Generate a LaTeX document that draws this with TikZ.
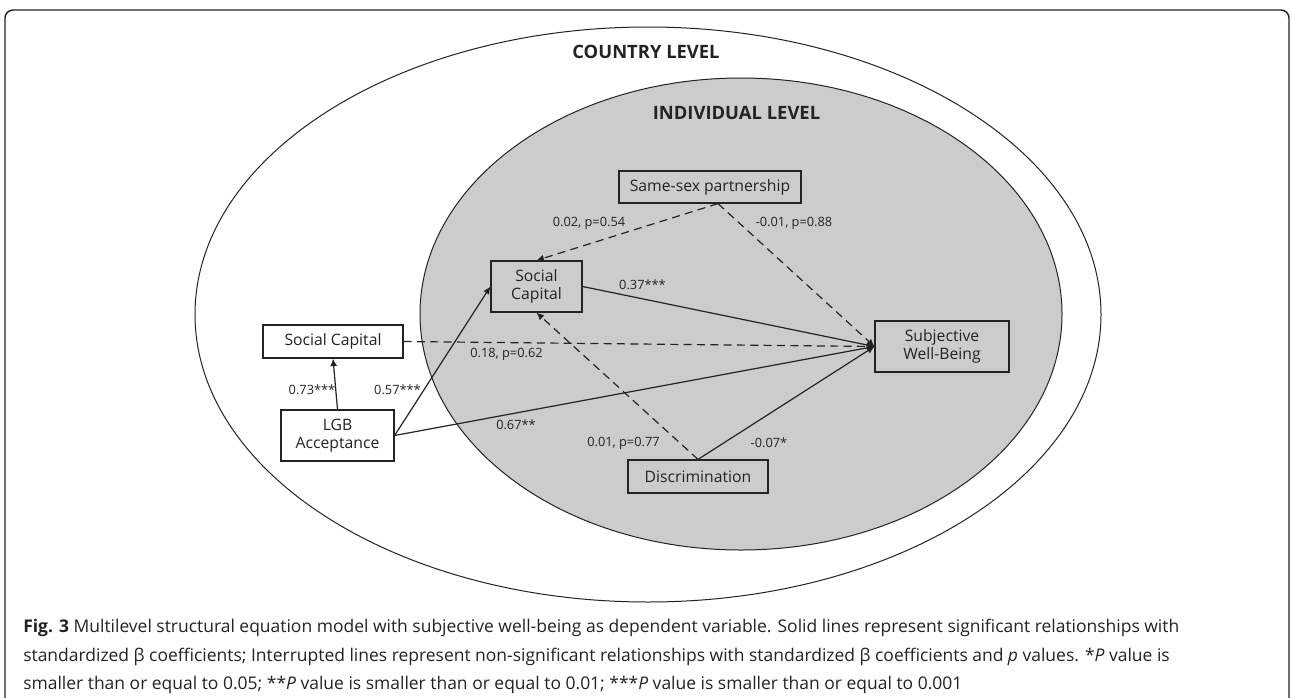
\documentclass[tikz,border=0pt]{standalone}
\usepackage{fontspec}
\setmainfont{Open Sans}
\usetikzlibrary{arrows.meta,positioning}
\definecolor{levelgray}{HTML}{CCCCCC}
\definecolor{inkgray}{HTML}{232323}

\begin{document}
\begin{tikzpicture}
	[x=0.75pt, y=-0.75pt, inner sep=0pt,
	levelline/.style	= {draw=inkgray, line width=0.75pt},
	heading/.style	= {font=\fontsize{13.8}{16}\selectfont\bfseries, text=inkgray},
	measure/.style	= {rectangle, draw=inkgray, line width=0.9pt, align=center, text=inkgray, font=\fontsize{11.8}{13.3}\selectfont},
	coef/.style		= {font=\fontsize{9.6}{11}\selectfont, text=inkgray},
	paths/.style	= {-{Latex[length=5.6pt,width=5.2pt]}, draw=inkgray, line width=0.9pt},
	nonsig/.style	= {paths, dash pattern=on 6pt off 4pt},
	capline/.style	= {anchor=west, font=\fontsize{13.1}{15}\selectfont, text=inkgray}]
	
	\useasboundingbox (0, 0) rectangle (1292, 697);
	\fill [white] (0, 0) rectangle (1292, 697);
	\draw [inkgray, line width=1.1pt, rounded corners=6pt] (5, 710) -- (5, 10) -- (1289, 10) -- (1289, 710);
	
	% the two levels
	\draw [levelline, fill=white]		(648, 314.5) ellipse [x radius=453, y radius=287.5];
	\draw [levelline, fill=levelgray]	(741, 314) ellipse [x radius=321, y radius=236];
	
	\node at (646, 52)		[heading]		(country)	{COUNTRY LEVEL};
	\node at (736.5, 113)	[heading]		(indiv)		{INDIVIDUAL LEVEL};
	
	\node at (710, 187)		[measure, minimum width=136.5pt, minimum height=24pt, fill=levelgray]		(ss)	{Same-sex partnership};
	\node at (536.5, 286.5)	[measure, minimum width=68.25pt, minimum height=38.25pt, fill=levelgray]	(sci)	{Social\\Capital};
	\node at (942, 346.5)	[measure, minimum width=100.5pt, minimum height=38.25pt, fill=levelgray]	(swb)	{Subjective\\Well-Being};
	\node at (698, 476.5)	[measure, minimum width=105pt, minimum height=24.75pt, fill=levelgray]		(disc)	{Discrimination};
	
	\node at (333, 341.5)	[measure, minimum width=105pt, minimum height=24.75pt, fill=white]		(scc)	{Social Capital};
	\node at (337.5, 435.5)	[measure, minimum width=84.75pt, minimum height=38.25pt, fill=white]		(lgb)	{LGB\\Acceptance};
	
	\draw [nonsig] ([xshift=6pt]ss.south) -- (sci.north);
	\draw [nonsig] ([xshift=6pt]ss.south) -- (swb.west);
	\draw [paths] (sci.east) -- (swb.west);
	\draw [nonsig] (scc.east) -- (swb.west);
	\draw [paths] (lgb.north) -- (scc.south);
	\draw [paths] (lgb.east) -- (sci.west);
	\draw [paths] (lgb.east) -- (swb.west);
	\draw [nonsig] (disc.north) -- (sci.south);
	\draw [paths] (disc.north) -- (swb.west);
	
	\node at (589, 223)		[coef]	(c-ss-sci)	{0.02, p=0.54};
	\node at (794, 223)		[coef]	(c-ss-swb)	{-0.01, p=0.88};
	\node at (642.5, 285)	[coef]	(c-sci-swb)	{0.37***};
	\node at (506.5, 354)	[coef]	(c-scc-swb)	{0.18, p=0.62};
	\node at (312, 390)		[coef]	(c-lgb-scc)	{0.73***};
	\node at (397.5, 390)	[coef]	(c-lgb-sci)	{0.57***};
	\node at (516, 425)		[coef]	(c-lgb-swb)	{0.67**};
	\node at (623.5, 443)	[coef]	(c-disc-sci){0.01, p=0.77};
	\node at (769, 443)		[coef]	(c-disc-swb){-0.07*};
	
	% caption
	\node at (23, 628)	[capline]	(cap1)	{\textbf{Fig. 3} Multilevel structural equation model with subjective well-being as dependent variable. Solid lines represent significant relationships with};
	\node at (23, 657)	[capline]	(cap2)	{standardized β coefficients; Interrupted lines represent non-significant relationships with standardized β coefficients and \textit{p} values. *\textit{P} value is};
	\node at (23, 685)	[capline]	(cap3)	{smaller than or equal to 0.05; **\textit{P} value is smaller than or equal to 0.01; ***\textit{P} value is smaller than or equal to 0.001};
\end{tikzpicture}
\end{document}
